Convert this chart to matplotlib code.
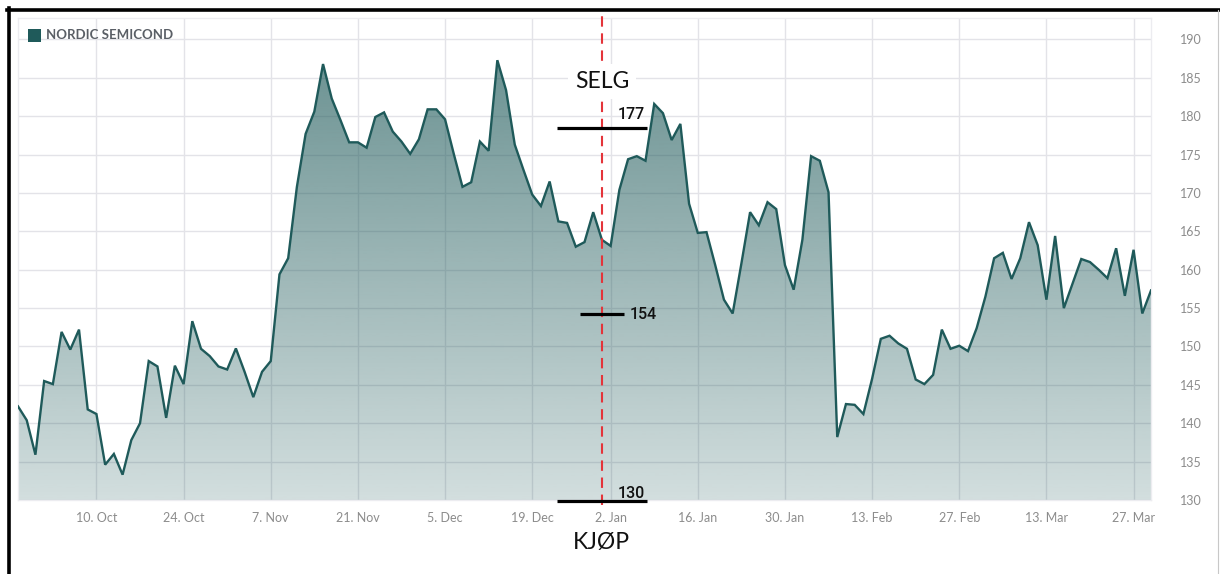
import numpy as np
import matplotlib
matplotlib.use("Agg")
import matplotlib.pyplot as plt
import matplotlib.colors as mcolors
from matplotlib.patches import Polygon, Rectangle
from matplotlib.lines import Line2D

# Kursdata, en verdi per handelsdag (27. sep - 29. mar)
price = [142.2, 140.4, 135.9, 145.5, 145.1, 151.9, 149.6, 152.2, 141.8, 141.2,
         134.6, 136.0, 133.3, 137.8, 140.0, 148.1, 147.4, 140.7, 147.5, 145.1,
         153.3, 149.7, 148.75, 147.4, 147.0, 149.75, 146.7, 143.4, 146.7, 148.1,
         159.4, 161.5, 170.8, 177.7, 180.6, 186.8, 182.3, 179.5, 176.6, 176.6,
         175.9, 179.9, 180.5, 178.0, 176.7, 175.1, 177.0, 180.9, 180.9, 179.6,
         175.1, 170.8, 171.4, 176.7, 175.5, 187.3, 183.4, 176.3, 173.0, 169.8,
         168.3, 171.5, 166.3, 166.1, 163.0, 163.6, 167.5, 163.9, 163.1, 170.4,
         174.4, 174.8, 174.2, 181.6, 180.4, 176.9, 179.0, 168.6, 164.8, 164.9,
         160.6, 156.1, 154.3, 160.8, 167.5, 165.8, 168.8, 167.9, 160.6, 157.4,
         163.9, 174.8, 174.2, 170.1, 138.2, 142.5, 142.4, 141.2, 145.8, 151.0,
         151.4, 150.4, 149.7, 145.7, 145.1, 146.3, 152.2, 149.7, 150.1, 149.4,
         152.4, 156.5, 161.5, 162.2, 158.8, 161.5, 166.2, 163.2, 156.1, 164.4,
         155.0, 158.2, 161.4, 161.0, 160.0, 158.9, 162.8, 156.6, 162.6, 154.3,
         157.3]
tick_idx = [9, 19, 29, 39, 49, 59, 68, 78, 88, 98, 108, 118, 128]
tick_labels = ['10. Oct', '24. Oct', '7. Nov', '21. Nov', '5. Dec', '19. Dec',
               '2. Jan', '16. Jan', '30. Jan', '13. Feb', '27. Feb', '13. Mar', '27. Mar']
y_ticks = list(range(130, 191, 5))

# Markeringer
signal_x = 67.06
selg_level = 178.5
mid_level = 154.2
kjop_level = 129.87
label_selg = '177'
label_mid = '154'
label_kjop = '130'

teal = '#1f5a5a'
x = np.arange(len(price))
ymin, ymax = 130, 192.8

fig = plt.figure(figsize=(12.2, 5.74), dpi=100)
ax = fig.add_axes([18 / 1220, 74 / 574, 1133 / 1220, 482 / 574])

# Gradient-fyll under kurven
grad = np.zeros((256, 1, 4))
grad[:, 0, :3] = mcolors.to_rgb(teal)
grad[:, 0, 3] = np.linspace(0.70, 0.20, 256)
im = ax.imshow(grad, extent=[0, len(price) - 1, ymin, ymax], aspect='auto',
               origin='upper', zorder=1, interpolation='bilinear')
verts = [(0, ymin)] + list(zip(x, price)) + [(len(price) - 1, ymin)]
clip = Polygon(verts, closed=True, facecolor='none', edgecolor='none')
ax.add_patch(clip)
im.set_clip_path(clip)

ax.plot(x, price, color=teal, lw=1.7, zorder=3, solid_joinstyle='miter')

ax.set_xlim(0, len(price) - 1)
ax.set_ylim(ymin, ymax)
ax.set_xticks(tick_idx)
ax.set_xticklabels(tick_labels)
ax.set_yticks(y_ticks)
ax.yaxis.tick_right()
ax.tick_params(axis='both', length=0, labelsize=9, labelcolor='#8c8c8c')
ax.tick_params(axis='x', pad=9)
ax.tick_params(axis='y', pad=21)
for lab in ax.get_xticklabels() + ax.get_yticklabels():
    lab.set_family('Lato')
ax.grid(True, color='#e3e3e8', lw=1.0, zorder=0.5)
ax.set_axisbelow(True)
for sp in ax.spines.values():
    sp.set_color('#ececf0')
    sp.set_linewidth(1.0)

# Legende
ax.add_patch(Rectangle((10 / 1133, 1 - 24 / 482), 13 / 1133, 13 / 482,
                       transform=ax.transAxes, facecolor=teal, edgecolor='none', zorder=5))
ax.text(28.5 / 1133, 1 - 17 / 482, 'NORDIC SEMICOND', transform=ax.transAxes,
        fontsize=9.5, fontweight='bold', color='#5a5f66', family='Lato',
        va='center', ha='left', zorder=5)

# Rod stiplet linje
ax.axvline(signal_x, ymin=-0.011, ymax=1.018, color='#e4343a', lw=1.5,
           dashes=(5, 3.2), clip_on=False, zorder=4)

# Niva-streker
ax.plot([61.9, 72.2], [selg_level, selg_level], color='black', lw=2.3,
        zorder=6, clip_on=False, solid_capstyle='butt')
ax.plot([64.45, 69.5], [mid_level, mid_level], color='black', lw=2.3,
        zorder=6, clip_on=False, solid_capstyle='butt')
ax.plot([61.9, 72.2], [kjop_level, kjop_level], color='black', lw=2.3,
        zorder=6, clip_on=False, solid_capstyle='butt')
num_font = dict(fontsize=11.5, family='Roboto', fontweight='medium', color='#111111')
ax.text(68.8, 179.6, label_selg, ha='left', va='baseline', zorder=6, **num_font)
ax.text(70.2, 154.3, label_mid, ha='left', va='center_baseline', zorder=6, **num_font)
ax.text(68.8, 130.3, label_kjop, ha='left', va='baseline', zorder=6, **num_font)

ax.text(67.0, 184.5, 'SELG', fontsize=16.5, family='Lato', ha='center',
        va='center', zorder=7, color='#111111',
        bbox=dict(boxstyle='square,pad=0.3', facecolor='white', edgecolor='none'))
fig.text(601.7 / 1220, 1 - 543 / 574, 'KJØP', fontsize=16.5, family='Lato',
         ha='center', va='center', color='#111111')

# Ramme rundt skjermbildet
fig.add_artist(Line2D([7 / 1220, 1], [1 - 9.5 / 574, 1 - 9.5 / 574],
                      color='black', lw=2.6, transform=fig.transFigure))
fig.add_artist(Line2D([8.5 / 1220, 8.5 / 1220], [0, 1 - 8 / 574],
                      color='black', lw=2.6, transform=fig.transFigure))
fig.add_artist(Line2D([1218 / 1220, 1218 / 1220], [0, 1 - 10 / 574],
                      color='#c8c8c8', lw=0.8, transform=fig.transFigure))

fig.savefig('out.png', dpi=100, facecolor='white')
